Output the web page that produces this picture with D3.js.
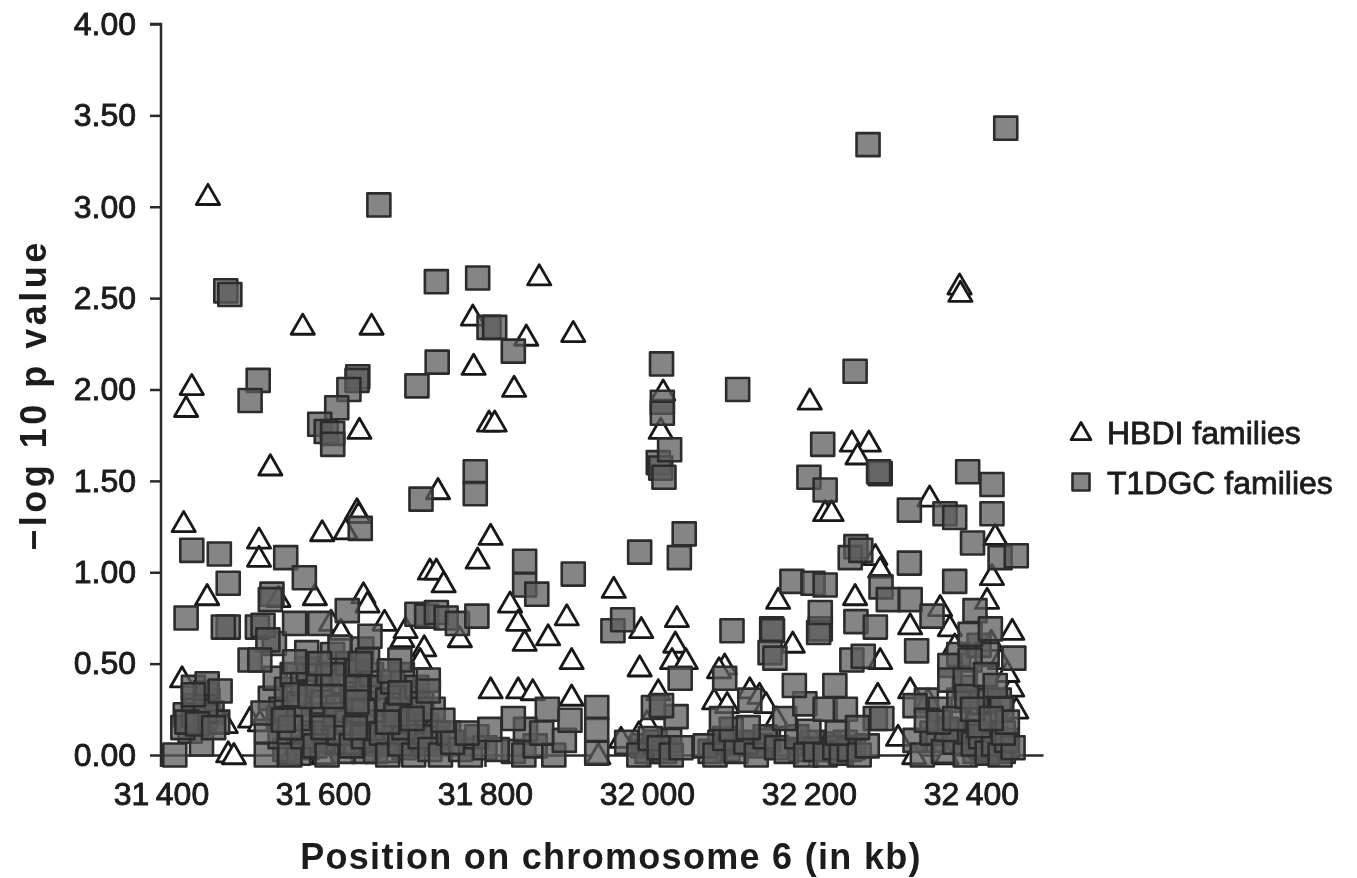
<!DOCTYPE html>
<html>
<head>
<meta charset="utf-8">
<script src="https://cdn.jsdelivr.net/npm/d3@7"></script>
<style>
  html, body { margin: 0; background: #fff; }
  svg { display: block; font-family: "Liberation Sans", Arial, sans-serif; filter: blur(0.6px); }
  .axis path, .axis line { stroke: #2a2a2a; stroke-width: 2.5; fill: none; }
  .axis text { fill: #1c1c1c; stroke: #1c1c1c; stroke-width: 0.9; font-size: 32px; }
  .title { fill: #1c1c1c; font-weight: bold; font-size: 36px; }
  .legend-label { fill: #1c1c1c; stroke: #1c1c1c; stroke-width: 0.8; font-size: 32px; }
  .hbdi { fill: #fff; stroke: #181818; stroke-width: 2.8; stroke-linejoin: round; }
  .t1dgc { fill: #5c5c5c; fill-opacity: 0.75; stroke: #2c2c2c; stroke-width: 2.6; stroke-linejoin: round; }
</style>
</head>
<body>
<svg width="1357" height="878"></svg>
<script>
  const yTicks = [0, 0.5, 1, 1.5, 2, 2.5, 3, 3.5, 4];
  const xTicks = [31400, 31600, 31800, 32000, 32200, 32400];
  const seriesNames = ['HBDI families', 'T1DGC families'];

  // [position in kb, -log10 p]
  const hbdiUpper = [
    [31458,3.06],[31431,1.90],[31438,2.02],[31428,1.27],[31457,.87],[31535,1.58],[31521,1.18],[31521,1.08],
    [31575,2.35],[31660,2.35],[31645,1.78],[31642,1.34],[31644,1.32],[31599,1.22],[31628,1.23],[31785,2.40],
    [31786,2.13],[31805,1.82],[31812,1.82],[31836,2.01],[31851,2.29],[31867,2.62],[31909,2.31],[31807,1.20],
    [31791,1.07],[31742,1.45],[31732,1.01],[31740,1.01],[31749,.94],[31769,.64],[31831,.83],[31841,.73],
    [31849,.62],[31807,.36],[31841,.36],[31859,.35],[31878,.65],[31901,.76],[31959,.91],[31993,.69],[31991,.48],
    [32037,.75],[32035,.61],[32031,.52],[32048,.52],[32017,1.78],[32020,1.99],[32201,1.94],[32253,1.71],
    [32274,1.71],[32260,1.64],[32220,1.33],[32228,1.33],[32386,2.57],[32387,2.53],[32349,1.41],[32430,1.20],
    [32426,.98],[32162,.85],[32180,.61],[32257,.87],[32288,.52],[32282,1.09],[32288,1.02],[32325,.71],
    [32451,.68],[32436,.52],[32451,.37],[32096,.49],[32325,.36],[32347,.30],[32285,.33],[32362,.81],[32374,.70],[32420,.85]
  ];
  const hbdiLower = [
    [31426,.42],[31473,.19],[31480,.17],[31483,.01],[31490,.00],[31510,.20],[31522,.18],[31590,.87],[31610,.73],
    [31650,.88],[31655,.83],[31676,.73],[31698,.64],[31702,.69],[31725,.59],[31720,.52],[31622,.68],[31545,.86],
    [31907,.52],[31907,.32],[32000,.18],[32014,.35],[31990,.12],[31968,.09],[31940,.00],[32089,.47],[32083,.30],
    [32099,.28],[32127,.36],[32139,.33],[32147,.28],[32190,.05],[32330,.00],[32370,.00],[32400,.30],[32456,.25],
    [32445,.45],[32380,.60],[32425,.62],[32160,.20],[32310,.10],[31560,.00],[31600,.00],[31680,.01]
  ];
  const t1dgcUpper = [
    [32443,3.43],[32273,3.34],[31669,3.01],[31480,2.54],[31485,2.52],[31740,2.59],[31791,2.61],[31805,2.34],
    [31812,2.34],[31835,2.21],[31741,2.15],[31716,2.02],[31520,2.05],[31510,1.94],[31643,2.07],[31642,2.05],
    [31632,2.00],[31617,1.90],[31596,1.81],[31604,1.77],[31612,1.76],[31612,1.70],[31721,1.40],[31788,1.55],
    [31788,1.43],[31646,1.24],[31438,1.12],[31472,1.10],[31483,.94],[31431,.75],[31554,1.08],[31577,.97],
    [31537,.88],[31535,.85],[31849,1.06],[31849,.93],[31864,.88],[31909,.99],[31991,1.11],[32046,1.21],
    [32040,1.08],[32018,2.14],[32019,1.93],[32019,1.87],[32014,1.60],[32017,1.57],[32021,1.52],[32028,1.67],
    [32112,2.00],[32257,2.10],[32217,1.70],[32200,1.52],[32220,1.45],[32288,1.54],[32286,1.55],[32324,1.34],
    [32368,1.32],[32380,1.30],[32396,1.55],[32426,1.48],[32426,1.32],[32402,1.16],[32436,1.08],[32456,1.09],
    [32324,1.05],[32179,.95],[32205,.94],[32220,.93],[32258,1.14],[32251,1.08],[32264,1.12],[32289,.92],
    [32298,.85],[32325,.85],[32380,.95],[32352,.76],[32154,.69],[32155,.68],[32152,.56],[32105,.68],[32158,.53]
  ];
  const t1dgcMiddle = [
    [32214,.69],[32212,.67],[32214,.78],[32258,.73],[32282,.70],[32253,.52],[32267,.54],[32333,.57],[32405,.79],
    [32399,.66],[32424,.69],[32399,.52],[32374,.41],[32393,.41],[32453,.53],[32438,.25],[31483,.70],[31477,.70],
    [31519,.70],[31526,.71],[31532,.63],[31510,.52],[31522,.52],[31565,.72],[31596,.72],[31630,.79],[31658,.65],
    [31621,.59],[31565,.51],[31596,.50],[31646,.50],[31682,.46],[31730,.41],[31730,.35],[31457,.39],[31473,.35],
    [31440,.33],[31432,.18],[31445,.17],[31465,.15],[31526,.23],[31551,.19],[31584,.32],[31612,.32],[31642,.37],
    [31642,.29],[31695,.34],[31748,.19],[31778,.12],[31806,.14],[31835,.20],[31877,.25],[31905,.19],[31938,.26],
    [31938,.14],[31716,.77],[31728,.76],[31740,.78],[31752,.75],[31766,.72],[31790,.76],[31958,.68],[31970,.74],
    [32041,.42],[32036,.21],[32008,.26],[32018,.27],[32096,.42],[32092,.20],[32127,.30],[32170,.20],[32195,.28],
    [32182,.38],[32232,.38],[32220,.25],[32245,.25],[32282,.20],[32290,.20],[32260,.15],[32331,.27],[32345,.19],
    [32360,.18],[32380,.20],[32395,.32],[32402,.25],[32418,.44],[32430,.38],[32445,.18],[32425,.20]
  ];
  const t1dgcLower = [
    [31417,.00],[31450,.06],[31427,.15],[31440,.22],[31455,.24],[31530,.00],[31547,.10],[31559,.00],[31575,.10],
    [31590,.05],[31605,.00],[31620,.12],[31635,.05],[31650,.10],[31665,.02],[31672,.12],[31680,.00],[31695,.06],
    [31700,.15],[31712,.00],[31720,.10],[31732,.03],[31745,.00],[31755,.12],[31770,.03],[31782,.00],[31790,.10],
    [31800,.04],[31835,.02],[31848,.00],[31862,.05],[31885,.00],[31898,.08],[31938,.01],[31975,.07],[31990,.00],
    [32004,.09],[32015,.04],[32030,.00],[32042,.04],[32072,.05],[32084,.00],[32096,.09],[32110,.02],[32122,.07],
    [32135,.00],[32146,.10],[32160,.04],[32172,.02],[32185,.10],[32196,.00],[32208,.03],[32220,.00],[32232,.04],
    [32240,.01],[32250,.03],[32262,.00],[32272,.05],[32331,.08],[32340,.00],[32352,.12],[32366,.02],[32380,.07],
    [32393,.00],[32403,.06],[32412,.10],[32420,.01],[32428,.06],[32436,.00],[32444,.08],[32452,.04],[31570,.20],
    [31615,.22],[31650,.24],[31690,.22],[31720,.25],[31530,.13],[31560,.15],[31600,.15],[31640,.15],[31680,.18],
    [31710,.20],[31760,.07],[31815,.03],[31850,.14],[31870,.12],[32104,.14],[32125,.15],[32200,.13],[32235,.12],
    [32370,.14],[32410,.16],[32440,.12]
  ];
  // the packed block near the axis, where single marks can only be estimated
  const t1dgcDense = [
    [31430,.22],[31436,.13],[31443,.27],[31450,.20],[31458,.30],[31463,.23],[31470,.18],[31440,.37],[31455,.34],
    [31535,.31],[31541,.42],[31548,.25],[31555,.36],[31562,.44],[31570,.28],[31575,.39],[31582,.47],[31588,.22],
    [31594,.38],[31600,.29],[31606,.44],[31612,.55],[31618,.26],[31625,.40],[31630,.50],[31636,.31],[31642,.46],
    [31648,.58],[31655,.36],[31660,.44],[31667,.28],[31673,.37],[31680,.30],[31686,.40],[31692,.25],[31698,.44],
    [31704,.17],[31710,.31],[31716,.37],[31722,.28],[31728,.16],[31736,.25],[31742,.12],[31700,.04],[31675,.06],
    [31650,.02],[31625,.02],[31612,.07],[31580,.04],[31553,.03],[31570,.01],[31600,.08],[31640,.07],[31660,.08],
    [31705,.09],[31726,.06],[31738,.09],[31690,.12],[31660,.18],[31630,.18],[31585,.12],[31545,.20],[31565,.33],
    [31612,.44],[31655,.52],[31695,.52],[31580,.56],[31540,.61],
    [32345,.30],[32355,.08],[32362,.25],[32385,.13],[32392,.07],[32398,.12],[32405,.02],[32410,.07],[32415,.04],
    [32420,.11],[32425,.03],[32430,.09],[32435,.05],[32440,.02],[32445,.05],[32405,.13],[32412,.05],[32392,.37],
    [32412,.29],[32422,.30],[32435,.30],[32385,.55],[32410,.60],[32420,.55],[32374,.49],[32385,.30],
    [32215,.03],[32225,.06],[32238,.02],[32245,.07],[32255,.04],[32205,.07],[32190,.03],[32150,.08],[32140,.05],
    [32115,.06],[32100,.03],[32078,.02],[32090,.07],[31995,.05],[32000,.02],[32010,.07],[32022,.02],[32028,.08]
  ];

  const hbdi = [...hbdiUpper, ...hbdiLower];
  const t1dgc = [...t1dgcDense, ...t1dgcLower, ...t1dgcMiddle, ...t1dgcUpper];

  const svg = d3.select('svg');

  const x = d3.scaleLinear().domain([31400, 32489]).range([161, 1043]);
  const y = d3.scaleLinear().domain([0, 4]).range([755, 24]);

  const triangle = d3.symbol().type(d3.symbolTriangle).size(235)();
  const square = d3.symbol().type(d3.symbolSquare).size(530)();

  svg.append('g')
    .attr('class', 'axis')
    .attr('transform', 'translate(161,0)')
    .call(d3.axisLeft(y).tickValues(yTicks).tickFormat(d3.format('.2f')).tickSize(11).tickSizeOuter(11).tickPadding(14))
    .call(g => g.select('.domain').attr('d', 'M-11,24H0V767'));

  svg.append('g')
    .attr('class', 'axis')
    .attr('transform', 'translate(0,755)')
    .call(d3.axisBottom(x).tickValues(xTicks).tickFormat(d => {
      const s = String(d);
      return s.slice(0, 2) + '\u202f' + s.slice(2);
    }).tickSize(12).tickSizeOuter(0).tickPadding(14))
    .call(g => g.selectAll('.tick text').attr('dy', '0.75em'));

  svg.append('g').selectAll('path').data(hbdi)
    .enter().append('path')
      .attr('class', 'hbdi')
      .attr('d', triangle)
      .attr('transform', d => `translate(${x(d[0])},${y(d[1]) + 2})`);

  svg.append('g').selectAll('path').data(t1dgc)
    .enter().append('path')
      .attr('class', 't1dgc')
      .attr('d', square)
      .attr('transform', d => `translate(${x(d[0])},${y(d[1])})`);

  svg.append('text')
    .attr('class', 'title')
    .attr('x', 611)
    .attr('y', 869)
    .attr('text-anchor', 'middle')
    .style('letter-spacing', '1.3px')
    .text('Position on chromosome 6 (in kb)');

  svg.append('text')
    .attr('class', 'title')
    .attr('transform', 'translate(46,395) rotate(-90)')
    .attr('text-anchor', 'middle')
    .style('letter-spacing', '3.5px')
    .text('\u2212log 10 p value');

  const legend = svg.append('g');
  legend.append('path')
    .attr('class', 'hbdi')
    .attr('d', d3.symbol().type(d3.symbolTriangle).size(170)())
    .attr('transform', 'translate(1081,434)');
  legend.append('path')
    .attr('class', 't1dgc')
    .attr('d', d3.symbol().type(d3.symbolSquare).size(290)())
    .attr('transform', 'translate(1081,482)');
  legend.selectAll('text').data(seriesNames)
    .enter().append('text')
      .attr('class', 'legend-label')
      .attr('x', 1107)
      .attr('y', (d, i) => 444 + i * 50)
      .text(d => d);
</script>
</body>
</html>
